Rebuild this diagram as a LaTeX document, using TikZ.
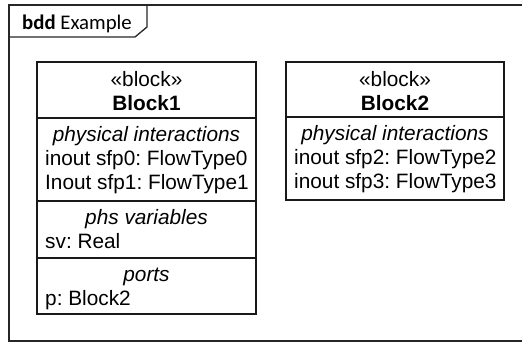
\documentclass[tikz,border=0pt]{standalone}
\usepackage{fontspec}
\setmainfont{Liberation Sans}
\newfontfamily\tabfont{Carlito}
\frenchspacing
\begin{document}
\begin{tikzpicture}[x=1pt,y=-1pt]
\tikzset{
  frameline/.style={draw=black!85, line width=1.3pt},
  blockline/.style={draw=black!90, line width=1.3pt},
  txt/.style={inner sep=0pt, font=\fontsize{20.8}{24}\selectfont},
  ctr/.style={txt, anchor=base},
  lft/.style={txt, anchor=base west},
  ttl/.style={txt, anchor=base, font=\fontsize{20.8}{24}\selectfont\itshape}
}
\useasboundingbox (0,0) rectangle (522,343);
\clip (0,0) rectangle (522,343);
% frame
\draw[frameline] (540,5) -- (9,5) -- (9,341) -- (540,341);
\draw[frameline] (9,37) -- (135,37) -- (147,27) -- (147,5);
\node[inner sep=0pt, anchor=base west, font=\tabfont\fontsize{20.8}{24}\selectfont] (title) at (22,29) {\textbf{bdd} Example};
% Block1
\draw[blockline] (37,62) rectangle (256,314);
\draw[blockline] (37,118) -- (256,118);
\draw[blockline] (37,201) -- (256,201);
\draw[blockline] (37,258) -- (256,258);
\node[ctr] (b1s) at (146.5,86) {«block»};
\node[ctr] (b1n) at (146.5,110) {\textbf{Block1}};
\node[ttl] (b1c1) at (146.5,141) {physical interactions};
\node[lft] (b1a) at (45,165) {inout sfp0: FlowType0};
\node[lft] (b1b) at (45,189) {Inout sfp1: FlowType1};
\node[ttl] (b1c2) at (146.5,224) {phs variables};
\node[lft] (b1v) at (45,248) {sv: Real};
\node[ttl] (b1c3) at (146.5,281) {ports};
\node[lft] (b1p) at (45,305) {p: Block2};
% Block2
\draw[blockline] (286,62) rectangle (504,200);
\draw[blockline] (286,117) -- (504,117);
\node[ctr] (b2s) at (395,86) {«block»};
\node[ctr] (b2n) at (395,110) {\textbf{Block2}};
\node[ttl] (b2c1) at (395,140) {physical interactions};
\node[lft] (b2a) at (294,164) {inout sfp2: FlowType2};
\node[lft] (b2b) at (294,188) {inout sfp3: FlowType3};
\end{tikzpicture}
\end{document}
